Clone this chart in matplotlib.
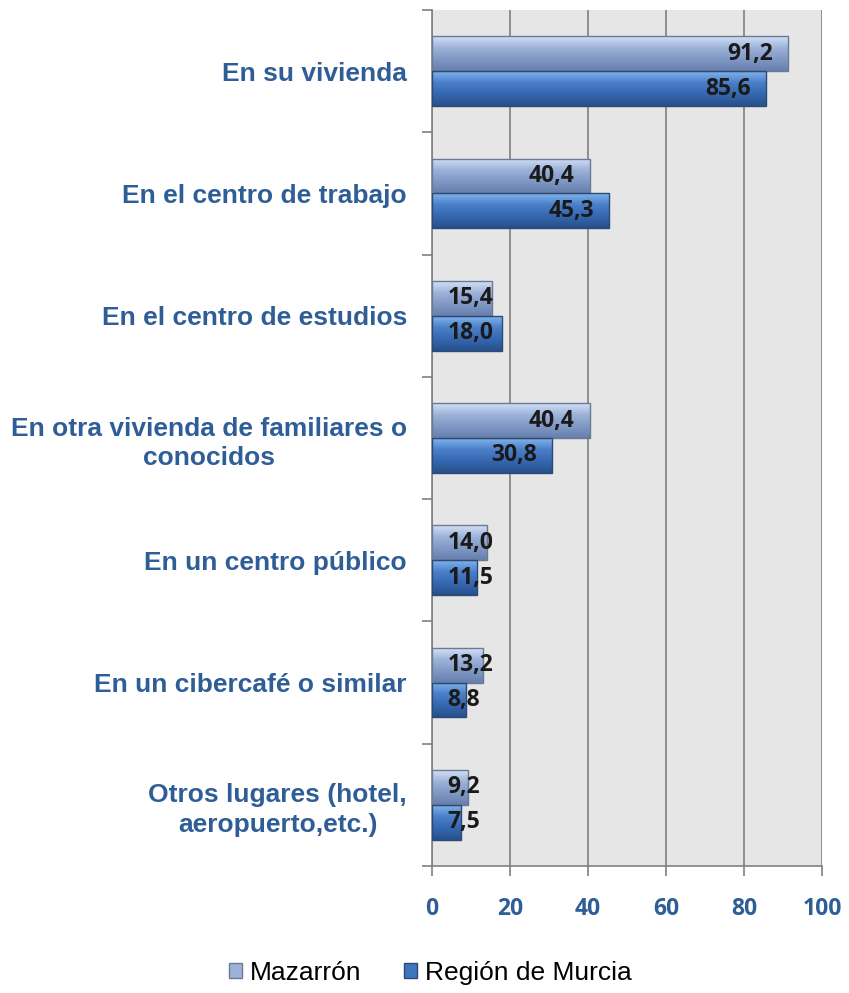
import numpy as np
import matplotlib
matplotlib.use("Agg")
import matplotlib.pyplot as plt
from matplotlib.patches import Patch
from matplotlib.colors import LinearSegmentedColormap

# data
categories = [
    "En su vivienda",
    "En el centro de trabajo",
    "En el centro de estudios",
    "En otra vivienda de familiares o\nconocidos",
    "En un centro público",
    "En un cibercafé o similar",
    "Otros lugares (hotel,\naeropuerto,etc.)",
]
mazarron = [91.2, 40.4, 15.4, 40.4, 14.0, 13.2, 9.2]
murcia = [85.6, 45.3, 18.0, 30.8, 11.5, 8.8, 7.5]
series_names = ["Mazarrón", "Región de Murcia"]
xticks = [0, 20, 40, 60, 80, 100]

label_blue = "#2F5E97"
grad_light = LinearSegmentedColormap.from_list("g1", ["#D3E1F7", "#9DB2D9", "#8098C4", "#687FAD"])
grad_dark = LinearSegmentedColormap.from_list("g2", ["#7FB3EE", "#4A7FC8", "#3567B0", "#27508A"])

fig = plt.figure(figsize=(8.49, 9.93), dpi=100)
ax = fig.add_axes([432 / 849, 1 - 866 / 993, 390 / 849, 856 / 993])
ax.set_facecolor("#E6E6E6")

y = np.arange(len(categories))
h = 0.285

def gradient_bars(vals, offset, cmap, edge):
    bars = ax.barh(y + offset, vals, height=h, color="none", edgecolor=edge, linewidth=1.0, zorder=3)
    grad = np.linspace(0, 1, 64).reshape(-1, 1)
    for b in bars:
        x0, y0 = b.get_x(), b.get_y()
        im = ax.imshow(grad, cmap=cmap, aspect="auto", zorder=2,
                       extent=[x0, x0 + b.get_width(), y0 + b.get_height(), y0],
                       interpolation="bicubic")
        im.set_clip_path(b)
    return bars

gradient_bars(mazarron, -h / 2, grad_light, "#6B7A93")
gradient_bars(murcia, h / 2, grad_dark, "#2C4A73")

# value labels: inside the bar end, or pinned near the axis for short bars
for vals, off in [(mazarron, -h / 2), (murcia, h / 2)]:
    for yi, v in zip(y, vals):
        if v < 19.5:
            xt, ha = 4.0, "left"
        else:
            xt, ha = v - 3.8, "right"
        ax.text(xt, yi + off, f"{v:.1f}".replace(".", ","), ha=ha, va="center",
                fontsize=16.5, fontweight="bold", family="Open Sans", color="#1A1A1A", zorder=5)

ax.set_xlim(0, 100)
ax.set_ylim(len(categories) - 0.5, -0.5)
ax.set_xticks(xticks)
ax.set_xticklabels([str(t) for t in xticks], fontsize=16.5, fontweight="bold",
                   family="Open Sans", color=label_blue)
ax.tick_params(axis="x", length=7, width=1.2, color="#808080", pad=15)
ax.xaxis.grid(True, color="#7F7F7F", linewidth=1.2, zorder=1)
ax.set_axisbelow(True)

ax.set_yticks(y)
ax.set_yticklabels(categories, fontsize=19, fontweight="bold", family="Liberation Sans",
                   color=label_blue, multialignment="center", linespacing=1.3)
ax.set_yticks(np.arange(-0.5, len(categories) + 0.5, 1), minor=True)
ax.tick_params(axis="y", which="major", length=0, pad=18)
ax.tick_params(axis="y", which="minor", length=7, width=1.2, color="#808080")

for s in ["top", "right"]:
    ax.spines[s].set_visible(False)
for s in ["left", "bottom"]:
    ax.spines[s].set_color("#808080")
    ax.spines[s].set_linewidth(1.2)

handles = [Patch(facecolor="#9DB2D9", edgecolor="#6B7A93"),
           Patch(facecolor="#3F74BE", edgecolor="#2C4A73")]
fig.legend(handles, series_names, loc="center", bbox_to_anchor=(0.507, 0.02), ncol=2,
           frameon=False, prop={"family": "Liberation Sans", "size": 19},
           handlelength=0.5, handleheight=0.5, handletextpad=0.3, columnspacing=1.6)

fig.savefig("out.png", dpi=100)
